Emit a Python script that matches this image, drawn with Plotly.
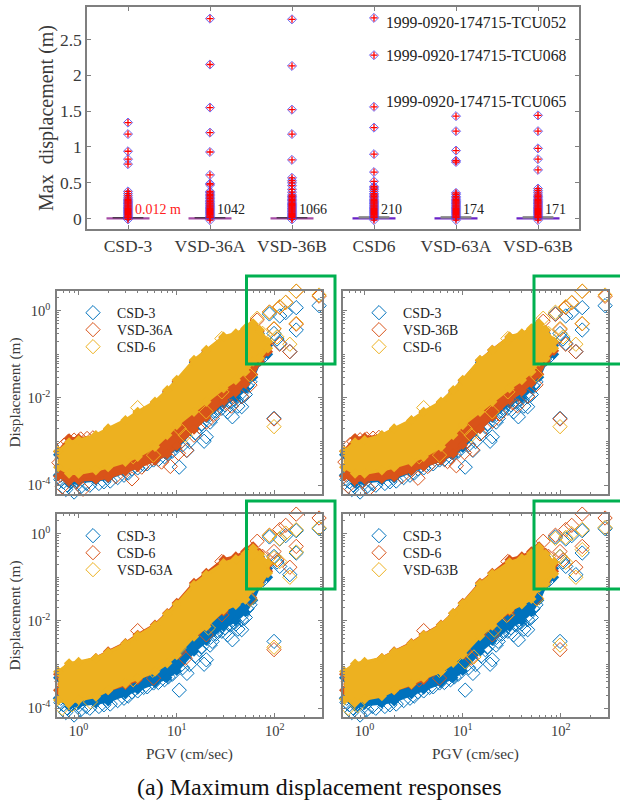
import plotly.graph_objects as go

W, H = 620, 803
FONT = "Liberation Serif"
TXT = "#3a3a3a"
AXC = "#7f7f7f"
BLUE, ORANGE, YELLOW = "#0072BD", "#D95319", "#EDB120"
GREEN = "#00B050"

# ---------- top panel data ----------
categories = ["CSD-3", "VSD-36A", "VSD-36B", "CSD6", "VSD-63A", "VSD-63B"]
counts = ["0.012 m", "1042", "1066", "210", "174", "171"]
q1 = [0.001, 0.001, 0.001, 0.001, 0.001, 0.001]
median = [0.003, 0.003, 0.003, 0.003, 0.003, 0.003]
q3 = [0.006, 0.006, 0.006, 0.006, 0.006, 0.006]
whisker_top = [0.012, 0.012, 0.012, 0.018, 0.018, 0.018]

out_csd3 = [1.34, 1.18, 0.94, 0.83, 0.76, 0.38, 0.35, 0.32, 0.29, 0.27, 0.25, 0.235, 0.22, 0.205, 0.19,
            0.175, 0.16, 0.145, 0.13, 0.115, 0.10, 0.085, 0.07, 0.055, 0.04, 0.025, 0.015, -0.01]
out_36a = [2.79, 2.15, 1.55, 1.20, 0.93, 0.61, 0.49, 0.47, 0.38, 0.36, 0.34, 0.32, 0.30, 0.28, 0.26, 0.24,
           0.22, 0.205, 0.19, 0.175, 0.16, 0.145, 0.13, 0.115, 0.10, 0.085, 0.07, 0.055, 0.04, 0.025, 0.015, -0.02]
out_36b = [2.78, 2.13, 1.52, 1.18, 0.82, 0.57, 0.53, 0.50, 0.46, 0.41, 0.37, 0.33, 0.31, 0.29, 0.27, 0.25, 0.23,
           0.21, 0.195, 0.18, 0.165, 0.15, 0.135, 0.12, 0.105, 0.09, 0.075, 0.06, 0.045, 0.03, 0.018, -0.01]
out_csd6 = [2.80, 2.28, 1.56, 1.27, 0.90, 0.65, 0.52, 0.45, 0.43, 0.41, 0.38, 0.35, 0.33, 0.31, 0.29, 0.27, 0.25, 0.235,
            0.22, 0.205, 0.19, 0.175, 0.16, 0.145, 0.13, 0.115, 0.10, 0.085, 0.07, 0.055, 0.04, 0.025, 0.015, -0.02]
out_63a = [1.43, 1.22, 0.95, 0.81, 0.79, 0.36, 0.34, 0.31, 0.29, 0.27, 0.25, 0.235, 0.22, 0.205, 0.19,
           0.175, 0.16, 0.145, 0.13, 0.115, 0.10, 0.085, 0.07, 0.055, 0.04, 0.025, 0.015, -0.02]
out_63b = [1.44, 1.22, 0.98, 0.83, 0.68, 0.42, 0.39, 0.36, 0.33, 0.31, 0.29, 0.27, 0.25, 0.235, 0.22, 0.205, 0.19,
           0.175, 0.16, 0.145, 0.13, 0.115, 0.10, 0.085, 0.07, 0.055, 0.04, 0.025, 0.015, -0.02]
box_outliers = [out_csd3, out_36a, out_36b, out_csd6, out_63a, out_63b]
record_labels = ["1999-0920-174715-TCU052", "1999-0920-174715-TCU068", "1999-0920-174715-TCU065"]
record_y = [2.73, 2.27, 1.64]

# ---------- band envelopes (PGV, lower / upper displacement) ----------
pgv_grid = [0.62, 0.8, 1, 1.5, 2, 3, 4, 6, 8, 10, 15, 20, 30, 40, 50, 60, 70, 85]

csd3_up = [5.0e-4, 8.0e-4, 9.5e-4, 1.2e-3, 1.7e-3, 2.7e-3, 4.2e-3, 7.2e-3, 0.013, 0.022, 0.065, 0.11, 0.22, 0.26, 0.33, 0.42, 0.30, 0.16]
csd3_lo = [1.7e-4, 1.1e-4, 1.2e-4, 1.3e-4, 1.45e-4, 2.1e-4, 2.7e-4, 3.8e-4, 5.0e-4, 7.2e-4, 2.0e-3, 3.5e-3, 7.5e-3, 0.010, 0.016, 0.03, 0.068, 0.10]

v36a_up = [5.9e-4, 1.18e-3, 1.18e-3, 1.3e-3, 1.9e-3, 2.9e-3, 4.5e-3, 7.7e-3, 0.014, 0.024, 0.07, 0.12, 0.24, 0.28, 0.36, 0.47, 0.34, 0.18]
v36a_lo = [1.6e-4, 1.3e-4, 1.3e-4, 1.35e-4, 1.5e-4, 2.1e-4, 2.6e-4, 3.7e-4, 5.2e-4, 8.0e-4, 1.9e-3, 3.6e-3, 8.6e-3, 0.0135, 0.021, 0.0345, 0.068, 0.115]

v36b_up = [6.0e-4, 1.2e-3, 1.25e-3, 1.35e-3, 1.9e-3, 3.0e-3, 4.6e-3, 7.8e-3, 0.0145, 0.025, 0.072, 0.125, 0.25, 0.29, 0.37, 0.49, 0.35, 0.19]
v36b_lo = [1.6e-4, 1.3e-4, 1.35e-4, 1.4e-4, 1.55e-4, 2.15e-4, 2.7e-4, 3.8e-4, 5.3e-4, 8.4e-4, 1.95e-3, 3.7e-3, 9.0e-3, 0.014, 0.022, 0.035, 0.07, 0.12]

csd6_up = [6.0e-4, 9.6e-4, 1.08e-3, 1.41e-3, 2.0e-3, 3.1e-3, 4.8e-3, 8.2e-3, 0.0151, 0.0257, 0.074, 0.126, 0.254, 0.30, 0.39, 0.51, 0.36, 0.195]
csd6_lo = [2.6e-4, 1.86e-4, 1.86e-4, 2.2e-4, 2.6e-4, 3.45e-4, 4.5e-4, 7.6e-4, 1.41e-3, 2.4e-3, 4.8e-3, 8.2e-3, 0.0166, 0.0257, 0.040, 0.068, 0.081, 0.137]

v63a_up = [6.9e-4, 1.07e-3, 1.15e-3, 1.4e-3, 1.9e-3, 3.0e-3, 4.6e-3, 7.8e-3, 0.0145, 0.024, 0.067, 0.115, 0.21, 0.26, 0.34, 0.46, 0.33, 0.21]
v63a_lo = [1.55e-4, 1.3e-4, 1.55e-4, 1.86e-4, 2.6e-4, 3.7e-4, 4.9e-4, 6.9e-4, 1.07e-3, 1.66e-3, 4.4e-3, 7.5e-3, 0.018, 0.0235, 0.031, 0.056, 0.068, 0.125]

v63b_up = [7.0e-4, 1.05e-3, 1.15e-3, 1.4e-3, 1.95e-3, 3.0e-3, 4.7e-3, 8.0e-3, 0.015, 0.025, 0.07, 0.12, 0.22, 0.27, 0.35, 0.48, 0.34, 0.22]
v63b_lo = [1.6e-4, 1.35e-4, 1.6e-4, 1.9e-4, 2.6e-4, 3.6e-4, 5.0e-4, 7.0e-4, 1.1e-3, 1.7e-3, 4.5e-3, 7.8e-3, 0.018, 0.024, 0.032, 0.058, 0.07, 0.12]

# ---------- individual hollow points ----------
csd3_x = [282, 165, 129, 112, 88, 165, 98, 105, 112, 142, 98, 76, 68, 0.84, 0.656, 0.77, 1.05, 1.61, 1.81, 3.5, 4.6, 5.8, 10.6, 12.7, 19, 20, 21.9, 28.8, 36.9, 37.8, 45.9, 45.9, 55.7, 0.7, 0.95, 1.2,
          15.5, 17, 23, 25, 27, 31, 33, 35, 40, 42, 47, 50, 7.5, 9, 13.5, 2.5, 2.9, 1.3, 2.1, 3.2, 4, 5, 6.5, 8.2, 11.5, 18, 22, 26, 30, 38, 52, 0.66, 0.74, 0.9, 1.0]
csd3_y = [1.30, 1.17, 0.90, 0.755, 0.84, 0.36, 0.30, 0.224, 0.178, 0.115, 0.0034, 0.088, 0.078, 5.9e-5, 1.7e-4, 1e-4, 9.2e-5, 1.1e-4, 1.2e-4, 2.4e-4, 3e-4, 3.8e-4, 2.6e-4, 6.3e-4, 1.02e-3, 1.29e-3, 2.8e-3, 5.8e-3, 3.7e-3, 0.0107, 6.3e-3, 0.0107, 0.0235, 1.2e-4, 1.3e-4, 1.1e-4,
          1.6e-3, 2.2e-3, 3.4e-3, 5e-3, 7.5e-3, 7e-3, 4.8e-3, 8e-3, 8.5e-3, 6.5e-3, 0.014, 0.012, 4.5e-4, 6e-4, 1e-3, 1.5e-4, 1.7e-4, 1.0e-4, 1.25e-4, 1.9e-4, 2.5e-4, 3.1e-4, 3.9e-4, 5.2e-4, 8.5e-4, 2.6e-3, 4.2e-3, 6e-3, 9e-3, 0.0095, 0.019, 1.35e-4, 8e-5, 7e-5, 1.15e-4]

v36a_x = [165, 282, 129, 112, 88, 66, 98, 165, 142, 112, 98, 0.68, 8.6, 3.5, 1.11, 10.4, 12.6, 5.6, 55.7, 45.9, 0.9, 0.71, 1.22, 27.5, 0.63, 0.8, 0.95, 20, 36, 1.05, 0.78, 1.4, 2.4, 4.4, 7, 15, 24, 32]
v36a_y = [2.79, 2.15, 1.55, 1.20, 0.93, 0.61, 0.38, 0.49, 0.115, 0.17, 0.0033, 9.2e-5, 2.7e-4, 1.4e-4, 8.1e-5, 5.4e-4, 6.3e-4, 4.1e-4, 0.0197, 0.0107, 1.08e-3, 8.3e-4, 1.18e-3, 0.0127, 3.3e-4, 1.4e-4, 1.2e-4, 2.8e-3, 6.5e-3, 1.15e-3, 1.0e-3, 1.22e-3, 1.6e-4, 2.6e-4, 3.4e-4, 1.4e-3, 4.2e-3, 7.5e-3]

v36b_x = [165, 282, 129, 112, 88, 66, 98, 165, 142, 112, 98, 0.68, 8.6, 3.5, 1.11, 10.4, 12.6, 5.6, 55.7, 45.9, 0.9, 0.71, 1.22, 27.5, 0.63, 0.8, 0.95, 20, 36, 1.05, 0.78, 1.4, 2.4, 4.4, 7, 15, 24, 32]
v36b_y = [2.78, 2.13, 1.52, 1.18, 0.82, 0.57, 0.37, 0.50, 0.115, 0.17, 0.0033, 9.5e-5, 2.8e-4, 1.45e-4, 8.3e-5, 5.6e-4, 6.5e-4, 4.2e-4, 0.020, 0.011, 1.1e-3, 8.5e-4, 1.2e-3, 0.013, 3.4e-4, 1.5e-4, 1.25e-4, 2.9e-3, 6.6e-3, 1.15e-3, 1.0e-3, 1.25e-3, 1.6e-4, 2.7e-4, 3.5e-4, 1.5e-3, 4.3e-3, 7.8e-3]

csd6_x = [165, 282, 129, 112, 88, 66, 98, 165, 142, 105, 98, 3.6, 5.8, 10.6, 12.2, 20, 28.8, 55.7, 28.8, 0.68, 4, 75, 60, 53]
csd6_y = [2.80, 2.28, 1.55, 1.24, 0.92, 0.67, 0.39, 0.51, 0.17, 0.25, 0.0022, 4.5e-4, 4.9e-4, 2e-3, 1.4e-3, 4.8e-3, 0.0138, 0.0335, 0.23, 4.1e-4, 6e-3, 0.30, 0.42, 0.36]

v63a_x = [282, 165, 129, 112, 88, 165, 142, 98, 112, 98, 0.68, 0.86, 5.7, 10.6, 21, 1.32, 55.7, 3.6, 75, 60]
v63a_y = [1.35, 1.23, 1.03, 0.77, 0.91, 0.38, 0.10, 0.28, 0.23, 0.0025, 1e-4, 1.2e-4, 7.4e-4, 2.4e-3, 6.9e-3, 1.4e-4, 0.031, 4.5e-4, 0.26, 0.36]

v63b_x = [282, 165, 129, 112, 88, 165, 142, 98, 112, 98, 0.68, 0.85, 5.8, 10.6, 13, 21, 28, 57, 75, 60]
v63b_y = [1.38, 1.25, 1.0, 0.82, 0.78, 0.43, 0.10, 0.30, 0.22, 0.0028, 1e-4, 1.15e-4, 7.4e-4, 1.15e-3, 1.5e-3, 6.2e-3, 0.0134, 0.032, 0.26, 0.38]

series = {
    "CSD-3": (csd3_lo, csd3_up, csd3_x, csd3_y),
    "VSD-36A": (v36a_lo, v36a_up, v36a_x, v36a_y),
    "VSD-36B": (v36b_lo, v36b_up, v36b_x, v36b_y),
    "CSD-6": (csd6_lo, csd6_up, csd6_x, csd6_y),
    "VSD-63A": (v63a_lo, v63a_up, v63a_x, v63a_y),
    "VSD-63B": (v63b_lo, v63b_up, v63b_x, v63b_y),
}
panel_series = [
    ["CSD-3", "VSD-36A", "CSD-6"],
    ["CSD-3", "VSD-36B", "CSD-6"],
    ["CSD-3", "CSD-6", "VSD-63A"],
    ["CSD-3", "CSD-6", "VSD-63B"],
]
# pixel boxes: left, right, top, bottom
panel_box = [(57, 322, 291, 494), (343, 608, 291, 494), (57, 322, 514, 717), (343, 608, 514, 717)]
green_box = [(246.5, 335, 276, 364), (534, 640, 276, 364), (246.5, 335, 501, 589), (534, 640, 501, 589)]
x_range = [-0.22, 2.48]
y_range = [-4.2, 0.45]
x_major = [1, 10, 100]
x_minor = [0.7, 0.8, 0.9, 2, 3, 4, 5, 6, 7, 8, 9, 20, 30, 40, 50, 60, 70, 80, 90, 200, 300]
x_major_text = ["10<sup>0</sup>", "10<sup>1</sup>", "10<sup>2</sup>"]
y_major = [1e-4, 1e-2, 1]
y_major_text = ["10<sup>-4</sup>", "10<sup>-2</sup>", "10<sup>0</sup>"]
y_minor = [2e-4, 3e-4, 4e-4, 5e-4, 6e-4, 7e-4, 8e-4, 9e-4, 1e-3, 2e-3, 3e-3, 4e-3, 5e-3, 6e-3, 7e-3, 8e-3, 9e-3,
           2e-2, 3e-2, 4e-2, 5e-2, 6e-2, 7e-2, 8e-2, 9e-2, 0.1, 0.2, 0.3, 0.4, 0.5, 0.6, 0.7, 0.8, 0.9, 2]

def fx(p): return p / W
def fy(p): return 1 - p / H

fig = go.Figure()
layout = dict(
    width=W, height=H, margin=dict(l=0, r=0, t=0, b=0, pad=0, autoexpand=False),
    paper_bgcolor="white", plot_bgcolor="white", showlegend=True,
    font=dict(family=FONT, color=TXT, size=14),
    hovermode=False,
)

# top axes
layout["xaxis"] = dict(domain=[fx(87), fx(579)], range=[-0.5, 5.5], type="category", categoryorder="array",
                       categoryarray=categories, anchor="y", showline=True, mirror="ticks", linecolor=AXC, linewidth=1.5,
                       ticks="inside", ticklen=4, tickcolor=AXC, tickfont=dict(size=17.5, family=FONT, color=TXT), showgrid=False, zeroline=False)
layout["yaxis"] = dict(domain=[fy(229), fy(7)], range=[-0.144, 2.952], anchor="x", showline=True, mirror="ticks", linecolor=AXC, linewidth=1.5,
                       ticks="inside", ticklen=4, tickcolor=AXC, tickvals=[0, 0.5, 1, 1.5, 2, 2.5], ticktext=["0", "0.5", "1", "1.5", "2", "2.5"],
                       tickfont=dict(size=17.5, family=FONT, color=TXT), showgrid=False, zeroline=False,
                       title=dict(text="Max\u00a0 displacement (m)", font=dict(size=20, family=FONT, color=TXT), standoff=1))

fig.add_trace(go.Box(x=categories[:3], q1=q1[:3], median=median[:3], q3=q3[:3], lowerfence=q1[:3], upperfence=whisker_top[:3],
                     width=0.5, whiskerwidth=0, line=dict(color="#A64CA6", width=2), fillcolor="rgba(0,0,0,0)", boxpoints=False,
                     showlegend=False, xaxis="x", yaxis="y"))
fig.add_trace(go.Box(x=categories[3:], q1=q1[3:], median=median[3:], q3=q3[3:], lowerfence=q1[3:], upperfence=whisker_top[3:],
                     width=0.5, whiskerwidth=0, line=dict(color="#6A22C8", width=2), fillcolor="rgba(0,0,0,0)", boxpoints=False,
                     showlegend=False, xaxis="x", yaxis="y"))
fig.add_trace(go.Scatter(x=categories[:3], y=whisker_top[:3], mode="markers", showlegend=False, xaxis="x", yaxis="y",
                         marker=dict(symbol="line-ew", size=22, color="#222222", line=dict(color="#222222", width=1))))
fig.add_trace(go.Scatter(x=categories[3:], y=whisker_top[3:], mode="markers", showlegend=False, xaxis="x", yaxis="y",
                         marker=dict(symbol="line-ew", size=22, color="#888888", line=dict(color="#888888", width=2.5))))
for cat, vals in zip(categories, box_outliers):
    xs = [cat] * len(vals)
    fig.add_trace(go.Scatter(x=xs, y=vals, mode="markers", showlegend=False, xaxis="x", yaxis="y", cliponaxis=False,
                             marker=dict(symbol="diamond-open", size=7, color="#4A40F0", line=dict(color="#4A40F0", width=0.8))))
    fig.add_trace(go.Scatter(x=xs, y=vals, mode="markers", showlegend=False, xaxis="x", yaxis="y", cliponaxis=False,
                             marker=dict(symbol="cross-thin-open", size=5, color="#FF0000", line=dict(color="#FF0000", width=1.3))))

annotations = []
for i, (cat, c) in enumerate(zip(categories, counts)):
    annotations.append(dict(x=cat, y=0.125, xref="x", yref="y", text=c, showarrow=False, xanchor="left", yanchor="middle",
                            xshift=5, font=dict(size=14, family=FONT, color="#FF2020" if i == 0 else "#222222")))
for lab, ry in zip(record_labels, record_y):
    annotations.append(dict(x="CSD6", y=ry, xref="x", yref="y", text=lab, showarrow=False, xanchor="left", yanchor="middle",
                            xshift=10, font=dict(size=15.7, family=FONT, color="#222222")))

colors = [BLUE, ORANGE, YELLOW]
legend_offsets = [21.7, 38.7, 55.7]
shapes = []
leg_no = 0
for i in range(4):
    n = i + 2
    ax, ay = f"x{n}", f"y{n}"
    l, r, t, b = panel_box[i]
    layout[f"xaxis{n}"] = dict(type="log", domain=[fx(l), fx(r)], range=x_range, anchor=ay, showline=True, mirror="ticks", linecolor=AXC, linewidth=1.5,
                               ticks="inside", ticklen=4, tickcolor=AXC, showgrid=False, zeroline=False,
                               tickvals=x_major, ticktext=x_major_text, showticklabels=i >= 2,
                               minor=dict(ticks="inside", ticklen=2, tickcolor=AXC, tickvals=x_minor),
                               tickfont=dict(size=14.5, family=FONT, color=TXT))
    if i >= 2:
        layout[f"xaxis{n}"]["title"] = dict(text="PGV (cm/sec)", font=dict(size=15.3, family=FONT, color=TXT), standoff=10)
    layout[f"yaxis{n}"] = dict(type="log", domain=[fy(b), fy(t)], range=y_range, anchor=ax, showline=True, mirror="ticks", linecolor=AXC, linewidth=1.5,
                               ticks="inside", ticklen=4, tickcolor=AXC, showgrid=False, zeroline=False, tickvals=y_major, ticktext=y_major_text,
                               showticklabels=i in (0, 2), ticklabelstandoff=2,
                               minor=dict(ticks="inside", ticklen=2, tickcolor=AXC, tickvals=y_minor),
                               tickfont=dict(size=14.5, family=FONT, color=TXT))
    if i in (0, 2):
        layout[f"yaxis{n}"]["title"] = dict(text="Displacement (m)", font=dict(size=15.3, family=FONT, color=TXT), standoff=3)
    for k, (name, col) in enumerate(zip(panel_series[i], colors)):
        lo, up, px_, py_ = series[name]
        leg_no += 1
        lname = "legend" if leg_no == 1 else f"legend{leg_no}"
        layout[lname] = dict(x=fx(l + 12), y=fy(t + legend_offsets[k]), xanchor="left", yanchor="middle", bgcolor="rgba(0,0,0,0)", borderwidth=0,
                             itemwidth=38, itemsizing="trace", font=dict(size=13.8, family=FONT, color="#222222"))
        fig.add_trace(go.Scatter(x=pgv_grid + pgv_grid[::-1], y=up + lo[::-1], mode="lines+markers", fill="toself", fillcolor=col,
                                 line=dict(color=col, width=3), marker=dict(symbol="diamond", size=8, color=col), showlegend=False,
                                 xaxis=ax, yaxis=ay, cliponaxis=False))
        fig.add_trace(go.Scatter(x=px_, y=py_, mode="markers", name=name, legend=lname, xaxis=ax, yaxis=ay, cliponaxis=False,
                                 marker=dict(symbol="diamond-open", size=11, color=col, line=dict(color=col, width=1))))
    gl, gr, gt, gb = green_box[i]
    shapes.append(dict(type="rect", xref="paper", yref="paper", x0=fx(gl), x1=fx(gr), y0=fy(gb), y1=fy(gt),
                       line=dict(color=GREEN, width=3), fillcolor="rgba(0,0,0,0)", layer="above"))

annotations.append(dict(x=fx(319.5), y=fy(787), xref="paper", yref="paper", text="(a) Maximum displacement responses", showarrow=False,
                        xanchor="center", yanchor="middle", font=dict(size=24, family=FONT, color="#111111")))
layout["annotations"] = annotations
layout["shapes"] = shapes
fig.update_layout(**layout)
fig.write_html("out.html", config={"displayModeBar": False},
               post_script="document.body.style.margin='0';document.body.style.overflow='hidden';")
